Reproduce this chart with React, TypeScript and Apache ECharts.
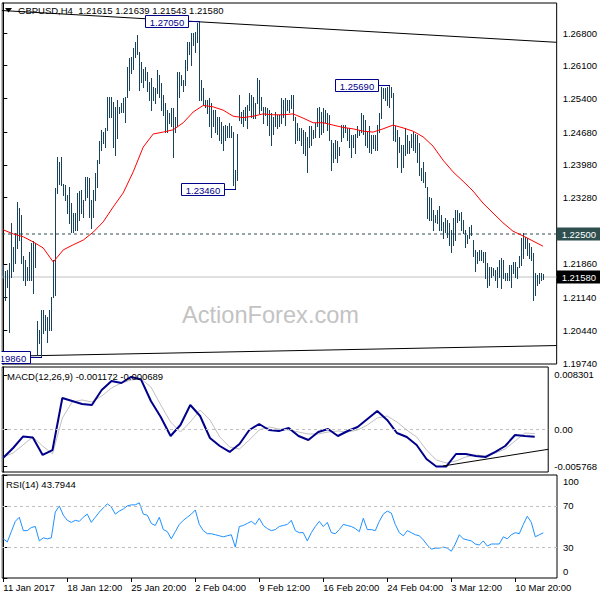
import React, { useEffect, useRef } from "react";
import * as echarts from "echarts";

// ---- price bars (H4, high / low of every bar, oldest first) ----
const highs = [
  1.2184,1.2170,1.2173,1.2187,1.2273,1.2223,1.2252,1.2319,1.2305,1.2291,
  1.2202,1.2195,1.2180,1.2212,1.2230,1.2234,1.2230,1.2063,1.2045,1.2088,
  1.2088,1.2077,1.2073,1.2088,1.2116,1.2195,1.2348,1.2415,1.2405,1.2415,
  1.2358,1.2355,1.2334,1.2351,1.2316,1.2294,1.2294,1.2337,1.2341,1.2344,
  1.2323,1.2373,1.2373,1.2369,1.2323,1.2344,1.2380,1.2408,1.2448,1.2473,
  1.2469,1.2476,1.2544,1.2544,1.2544,1.2533,1.2522,1.2537,1.2522,1.2530,
  1.2540,1.2544,1.2608,1.2626,1.2629,1.2647,1.2661,1.2676,1.2640,
  1.2619,1.2604,1.2608,1.2597,1.2576,1.2583,1.2565,1.2562,1.2601,1.2590,
  1.2572,1.2547,1.2530,1.2515,1.2508,1.2519,1.2519,1.2501,1.2597,1.2597,
  1.2590,1.2580,1.2622,1.2661,1.2661,1.2679,1.2679,1.2683,1.2701,1.2705,
  1.2580,1.2562,1.2537,1.2537,1.2540,1.2530,1.2515,1.2515,1.2501,1.2501,
  1.2490,1.2480,1.2483,1.2480,1.2487,1.2480,1.2469,1.2387,1.2465,1.2547,
  1.2512,1.2515,1.2522,1.2526,1.2551,1.2547,1.2544,1.2530,1.2583,1.2580,
  1.2544,1.2522,1.2522,1.2519,1.2515,1.2508,1.2501,1.2512,1.2505,1.2505,
  1.2540,1.2537,1.2540,1.2537,1.2537,1.2547,1.2547,1.2501,1.2487,1.2476,
  1.2476,1.2473,1.2469,1.2458,1.2480,1.2480,1.2473,1.2487,1.2519,1.2522,
  1.2512,1.2519,1.2515,1.2508,1.2505,1.2451,1.2444,1.2451,1.2448,1.2437,
  1.2483,1.2483,1.2483,1.2476,1.2476,1.2462,1.2462,1.2465,1.2480,1.2473,
  1.2508,1.2505,1.2494,1.2469,1.2480,1.2462,1.2462,1.2462,1.2483,1.2508,
  1.2565,1.2562,1.2562,1.2565,1.2569,1.2565,1.2551,1.2480,1.2473,1.2458,
  1.2440,1.2440,1.2476,1.2462,1.2448,1.2465,1.2469,1.2465,1.2462,1.2444,
  1.2391,1.2405,1.2383,1.2351,1.2330,1.2326,1.2301,1.2291,1.2301,1.2309,
  1.2291,1.2276,1.2284,1.2280,1.2273,1.2259,1.2284,1.2301,1.2301,1.2294,
  1.2298,1.2280,1.2259,1.2248,1.2266,1.2269,1.2237,1.2216,1.2212,1.2216,
  1.2216,1.2212,1.2212,1.2187,1.2180,1.2180,1.2177,1.2173,1.2180,1.2195,
  1.2198,1.2195,1.2166,1.2166,1.2184,1.2184,1.2191,1.2191,1.2180,1.2202,
  1.2241,1.2252,1.2244,1.2241,1.2230,1.2223,1.2209,1.2166,1.2162,1.2166,
  1.2166,1.2164
];
const lows = [
  1.2155,1.2109,1.2137,1.2040,1.2159,1.2170,1.2187,1.2219,1.2237,1.2187,
  1.2152,1.2141,1.2152,1.2152,1.2152,1.2123,1.2180,1.1991,1.2016,1.1986,
  1.2038,1.2045,1.2020,1.2045,1.2045,1.2116,1.2120,1.2337,1.2358,1.2355,
  1.2334,1.2323,1.2294,1.2273,1.2255,1.2255,1.2259,1.2259,1.2280,1.2294,
  1.2287,1.2323,1.2330,1.2287,1.2262,1.2287,1.2323,1.2351,1.2401,1.2430,
  1.2444,1.2437,1.2473,1.2501,1.2501,1.2437,1.2419,1.2455,1.2508,1.2512,
  1.2512,1.2490,1.2544,1.2558,1.2594,1.2604,1.2629,1.2636,1.2558,
  1.2576,1.2565,1.2580,1.2555,1.2537,1.2515,1.2537,1.2530,1.2551,1.2544,
  1.2515,1.2505,1.2469,1.2469,1.2487,1.2480,1.2415,1.2469,1.2480,1.2544,
  1.2569,1.2555,1.2569,1.2601,1.2636,1.2612,1.2654,1.2640,1.2661,1.2537,
  1.2537,1.2526,1.2522,1.2508,1.2480,1.2458,1.2480,1.2469,1.2465,1.2451,
  1.2444,1.2430,1.2451,1.2458,1.2458,1.2458,1.2355,1.2346,1.2366,1.2494,
  1.2487,1.2480,1.2494,1.2476,1.2515,1.2501,1.2498,1.2498,1.2530,1.2508,
  1.2515,1.2487,1.2505,1.2483,1.2462,1.2440,1.2465,1.2480,1.2476,1.2480,
  1.2487,1.2501,1.2483,1.2515,1.2512,1.2519,1.2494,1.2444,1.2451,1.2451,
  1.2440,1.2423,1.2419,1.2383,1.2437,1.2440,1.2455,1.2458,1.2480,1.2458,
  1.2465,1.2469,1.2490,1.2473,1.2451,1.2387,1.2405,1.2412,1.2405,1.2419,
  1.2448,1.2458,1.2469,1.2451,1.2437,1.2415,1.2437,1.2423,1.2458,1.2462,
  1.2469,1.2465,1.2440,1.2437,1.2426,1.2423,1.2433,1.2430,1.2430,1.2469,
  1.2498,1.2540,1.2537,1.2526,1.2522,1.2544,1.2451,1.2448,1.2394,1.2426,
  1.2383,1.2394,1.2419,1.2423,1.2423,1.2437,1.2430,1.2426,1.2405,1.2376,
  1.2366,1.2362,1.2351,1.2284,1.2280,1.2280,1.2259,1.2276,1.2273,1.2259,
  1.2259,1.2241,1.2255,1.2244,1.2227,1.2212,1.2227,1.2237,1.2276,1.2280,
  1.2259,1.2252,1.2223,1.2230,1.2241,1.2248,1.2202,1.2170,1.2187,1.2195,
  1.2195,1.2191,1.2155,1.2137,1.2141,1.2159,1.2162,1.2152,1.2137,1.2159,
  1.2134,1.2155,1.2152,1.2152,1.2152,1.2137,1.2166,1.2159,1.2155,1.2180,
  1.2184,1.2198,1.2219,1.2205,1.2198,1.2195,1.2109,1.2120,1.2141,1.2145,
  1.2152,1.2154
];

// ---- indicators: MA / MACD / signal read every 5 bars, RSI every 2 bars ----
const lineStep = 5;
const rsiStep = 2;
const maValues = [
  1.2259,1.2250,1.2244,1.2233,1.2220,1.2190,1.2216,1.2227,1.2237,1.2254,
  1.2276,1.2308,1.2338,1.2383,1.2436,1.2464,1.2468,1.2473,1.2488,1.2511,
  1.2525,1.2522,1.2515,1.2502,1.2499,1.2502,1.2507,1.2505,1.2505,1.2507,
  1.2498,1.2488,1.2488,1.2483,1.2478,1.2475,1.2470,1.2468,1.2475,1.2483,
  1.2477,1.2470,1.2458,1.2438,1.2408,1.2383,1.2363,1.2342,1.2316,1.2295,
  1.2274,1.2256,1.2246,1.2235,1.2224
];
const macdValues = [
  -0.00439,-0.00290,-0.00114,-0.00129,-0.00397,-0.00321,0.00477,0.00431,0.00385,0.00370,
  0.00600,0.00738,0.00707,0.00800,0.00760,0.00431,0.00186,-0.00106,0.00063,0.00370,
  0.00201,-0.00137,-0.00259,-0.00351,-0.00229,-0.00014,0.00078,-0.00014,-0.00029,0.00017,
  -0.00106,-0.00167,-0.00045,0.00002,-0.00106,-0.00029,0.00032,0.00155,0.00278,0.00140,
  -0.00060,-0.00121,-0.00244,-0.00459,-0.00575,-0.00575,-0.00382,-0.00382,-0.00413,-0.00428,
  -0.00351,-0.00259,-0.00091,-0.00106,-0.001172
];
const signalValues = [
  -0.00428,-0.00367,-0.00244,-0.00121,-0.00259,-0.00382,0.00170,0.00416,0.00447,0.00416,
  0.00508,0.00631,0.00707,0.00753,0.00769,0.00646,0.00370,0.00109,-0.00045,0.00109,
  0.00293,0.00140,-0.00121,-0.00275,-0.00305,-0.00167,-0.00014,0.00032,0.00002,-0.00014,
  -0.00045,-0.00075,-0.00075,-0.00045,-0.00029,-0.00045,-0.00014,0.00063,0.00170,0.00201,
  0.00109,-0.00014,-0.00121,-0.00321,-0.00474,-0.00520,-0.00489,-0.00428,-0.00397,-0.00413,
  -0.00367,-0.00305,-0.00183,-0.00060,-0.000689
];
const rsiValues = [
  38,35,45,55,59,46,46,49,50,36,39,38,39,64,70,
  61,56,54,56,55,59,62,54,59,64,68,72,69,62,65,
  67,70,71,71,73,62,61,53,51,59,47,45,38,45,52,
  56,59,62,66,52,46,43,43,42,41,40,41,42,30,50,
  51,53,55,52,58,51,48,46,47,50,51,52,56,46,44,
  44,36,44,50,55,50,54,44,43,47,52,51,50,48,45,
  58,47,47,46,55,62,65,63,52,44,41,46,44,42,41,
  37,32,28,29,29,30,29,26,33,42,38,37,36,33,32,
  36,31,33,33,33,40,38,42,44,43,52,60,54,40,42,
  43.7944
];

// ---- axes / annotations ----
const timeLabels = ["11 Jan 2017","18 Jan 12:00","25 Jan 20:00","2 Feb 04:00","9 Feb 12:00","16 Feb 20:00","24 Feb 04:00","3 Mar 12:00","10 Mar 20:00"];
const timeLabelBars = [0,32,64,96,128,160,192,224,256];
const priceTicks = [1.1974,1.2044,1.2114,1.2186,1.2328,1.2398,1.2468,1.254,1.261,1.268];
const levelPrice = 1.225;
const lastPrice = 1.2158;
const swingPrices = [1.2705,1.2346,1.2569,1.1986];
const swingKinds = ["high","low","high","low"];
const upperTrend = [[-0.65,1.27281],[276.85,1.26601]];
const lowerTrend = [[-0.65,1.19883],[276.85,1.20114]];
const macdTrend = [[223.4,-0.00566],[276.85,-0.0031]];
const macdTicks = [-0.005768,0,0.008301];
const rsiTicks = [0,30,70,100];
const rsiLevels = [70,30];
const titleText = "GBPUSD,H4  1.21615 1.21639 1.21543 1.21580";
const macdTitle = "MACD(12,26,9) -0.001172 -0.000689";
const rsiTitle = "RSI(14) 43.7944";

const FONT = "Liberation Sans";
const BAR = "#17445C";
const NAVY = "#00008B";
const XMIN = -0.65, XMAX = 276.85;

export default function App() {
  const ref = useRef<HTMLDivElement>(null);
  useEffect(() => {
    if (!ref.current) return;
    const chart = echarts.init(ref.current, null, { renderer: "svg" });
    const barData = highs.map((h, i) => [i, h, lows[i]]);
    const swingData = swingPrices.map((p, k) => [
      swingKinds[k] === "high" ? highs.indexOf(p) : lows.indexOf(p), p,
    ]);
    const stepped = (arr: number[], step: number) =>
      arr.map((v, k) => [Math.min(k * step, highs.length - 1), v]);
    const lbl = { fontFamily: FONT, fontSize: 9.5, color: "#000" };
    const xBase = (gi: number) => ({
      type: "value", gridIndex: gi, min: XMIN, max: XMAX,
      axisLine: { show: false }, axisTick: { show: false }, axisLabel: { show: false }, splitLine: { show: false },
    });
    const levelSeries = (value: number, lineColor: string, dash: any, bg: string, z: number) => ({
      type: "line", xAxisIndex: 0, yAxisIndex: 0, data: [[XMIN, value], [XMAX, value]], symbol: "none",
      lineStyle: { color: lineColor, type: dash, width: 1 }, silent: true, z, clip: false,
      endLabel: {
        show: true, distance: 0, formatter: () => value.toFixed(5), fontFamily: FONT, fontSize: 9.5,
        color: "#fff", backgroundColor: bg, padding: [2, 4, 1, 5],
      },
    });
    const option: any = {
      animation: false,
      backgroundColor: "#fff",
      grid: [
        { left: 2, top: 3, width: 555, height: 361, show: true, borderColor: "#000", borderWidth: 1 },
        { left: 2, top: 367, width: 555, height: 105, show: true, borderColor: "#000", borderWidth: 1 },
        { left: 2, top: 475, width: 555, height: 103, show: true, borderColor: "#000", borderWidth: 1 },
      ],
      xAxis: [
        xBase(0), xBase(1),
        {
          ...xBase(2),
          axisTick: { show: true, customValues: timeLabelBars, length: 4, lineStyle: { color: "#000" } },
          axisLabel: {
            show: true, customValues: timeLabelBars, ...lbl, align: "left", margin: 4,
            formatter: (v: number) => timeLabels[timeLabelBars.indexOf(Math.round(v))] || "",
          },
        },
      ],
      yAxis: [
        {
          type: "value", gridIndex: 0, position: "right", min: 1.19719, max: 1.27442,
          axisLine: { show: true, lineStyle: { color: "#000" } },
          axisTick: { show: true, customValues: priceTicks, length: 4, lineStyle: { color: "#000" } },
          axisLabel: { customValues: priceTicks, ...lbl, margin: 6, formatter: (v: number) => v.toFixed(5) },
          splitLine: { show: false },
        },
        {
          type: "value", gridIndex: 1, position: "right", min: -0.006582, max: 0.009527,
          axisLine: { show: true, lineStyle: { color: "#000" } },
          axisTick: { show: true, customValues: macdTicks, length: 4, lineStyle: { color: "#000" } },
          axisLabel: { customValues: macdTicks, ...lbl, margin: 6, formatter: (v: number) => (v === 0 ? "0.00" : v.toFixed(6)) },
          splitLine: { show: false },
        },
        {
          type: "value", gridIndex: 2, position: "right", min: 0, max: 100,
          axisLine: { show: true, lineStyle: { color: "#000" } },
          axisTick: { show: true, customValues: rsiTicks, length: 4, lineStyle: { color: "#000" } },
          axisLabel: {
            customValues: rsiTicks, ...lbl, margin: 6,
            formatter: (v: number) => (v >= 100 ? "{top|100}" : v <= 0 ? "" : String(v)),
            rich: {
              top: { fontFamily: FONT, fontSize: 9.5, color: "#000", padding: [13, 0, 0, 0] },
            },
          },
          splitLine: { show: false },
        },
      ],
      series: [
        {
          type: "line", xAxisIndex: 0, yAxisIndex: 0, data: upperTrend, symbol: "none",
          lineStyle: { color: "#000", width: 1 }, silent: true, z: 1,
        },
        {
          type: "line", xAxisIndex: 0, yAxisIndex: 0, data: lowerTrend, symbol: "none",
          lineStyle: { color: "#000", width: 1 }, silent: true, z: 1,
        },
        levelSeries(levelPrice, "#2F4F4F", [3, 3], "#2F4F4F", 2),
        levelSeries(lastPrice, "#C0C0C0", "solid", "#000", 2),
        {
          type: "custom", xAxisIndex: 0, yAxisIndex: 0, data: barData, z: 3,
          encode: { x: 0, y: [1, 2] },
          renderItem: (params: any, api: any) => {
            const i = api.value(0);
            const hi = api.coord([i, api.value(1)]);
            const lo = api.coord([i, api.value(2)]);
            const x = Math.round(hi[0]) + 0.5;
            return {
              type: "line",
              shape: { x1: x, y1: Math.round(hi[1]), x2: x, y2: Math.round(lo[1]) + 1 },
              style: { stroke: BAR, lineWidth: 1 },
            };
          },
        },
        {
          type: "line", xAxisIndex: 0, yAxisIndex: 0, data: stepped(maValues, lineStep), symbol: "none",
          lineStyle: { color: "#FF0000", width: 1 }, silent: true, z: 4,
        },
        {
          type: "custom", xAxisIndex: 0, yAxisIndex: 0, data: swingData, z: 6, clip: false,
          encode: { x: 0, y: 1 },
          renderItem: (params: any, api: any) => {
            const p = api.coord([api.value(0), api.value(1)]);
            const text = swingPrices[params.dataIndex].toFixed(5);
            const w = 43, h = 12;
            const right = Math.round(p[0]) - 11;
            const cy = Math.round(p[1]);
            const top = cy - 5.5;
            return {
              type: "group",
              children: [
                { type: "line", shape: { x1: right, y1: cy + 0.5, x2: Math.round(p[0]) + 1, y2: cy + 0.5 }, style: { stroke: NAVY, lineWidth: 1 } },
                { type: "rect", shape: { x: right - w + 0.5, y: top, width: w, height: h }, style: { fill: "#fff", stroke: NAVY, lineWidth: 1 } },
                {
                  type: "text",
                  style: { x: right - w / 2 + 0.5, y: top + h / 2 + 0.5, text, fill: NAVY, fontFamily: FONT, fontSize: 9.5, align: "center", verticalAlign: "middle" },
                },
              ],
            };
          },
        },
        {
          type: "line", xAxisIndex: 1, yAxisIndex: 1, data: stepped(signalValues, lineStep), symbol: "none",
          lineStyle: { color: "#C0C0C0", width: 1 }, silent: true, z: 2,
          markLine: {
            silent: true, symbol: "none", label: { show: false },
            data: [{ yAxis: 0 }], lineStyle: { color: "#C0C0C0", type: [3, 3], width: 1 },
          },
        },
        {
          type: "line", xAxisIndex: 1, yAxisIndex: 1, data: stepped(macdValues, lineStep), symbol: "none",
          lineStyle: { color: NAVY, width: 2 }, silent: true, z: 3,
        },
        {
          type: "line", xAxisIndex: 1, yAxisIndex: 1, data: macdTrend, symbol: "none",
          lineStyle: { color: "#000", width: 1 }, silent: true, z: 4,
        },
        {
          type: "line", xAxisIndex: 2, yAxisIndex: 2, data: stepped(rsiValues, rsiStep), symbol: "none",
          lineStyle: { color: "#1E90FF", width: 1 }, silent: true, z: 3,
          markLine: {
            silent: true, symbol: "none", label: { show: false },
            data: rsiLevels.map((v) => ({ yAxis: v })), lineStyle: { color: "#C0C0C0", type: [3, 3], width: 1 },
          },
        },
      ],
      graphic: [
        {
          type: "text", left: 182, top: 303, z: 0, silent: true,
          style: { text: "ActionForex.com", fontFamily: FONT, fontSize: 23.6, fill: "#C3C3C3" },
        },
        { type: "polygon", shape: { points: [[5, 8], [12, 8], [8.5, 12.5]] }, style: { fill: "#000" }, z: 10 },
        {
          type: "text", left: 18, top: 5, z: 10,
          style: { text: titleText, fontFamily: FONT, fontSize: 9.5, fill: "#000" },
        },
        {
          type: "text", left: 7, top: 371, z: 10,
          style: { text: macdTitle, fontFamily: FONT, fontSize: 9.5, fill: "#000" },
        },
        {
          type: "text", left: 6, top: 479, z: 10,
          style: { text: rsiTitle, fontFamily: FONT, fontSize: 9.5, fill: "#000" },
        },
        {
          type: "text", left: 563, top: 566, z: 10,
          style: { text: String(rsiTicks[0]), fontFamily: FONT, fontSize: 9.5, fill: "#000" },
        },
        { type: "rect", shape: { x: 0, y: 0, width: 1.5, height: 600 }, style: { fill: "#fff" }, z: 100 },
      ],
    };
    chart.setOption(option);
    return () => chart.dispose();
  }, []);
  return <div ref={ref} style={{ position: "absolute", left: 0, top: 0, width: 600, height: 600 }} />;
}
